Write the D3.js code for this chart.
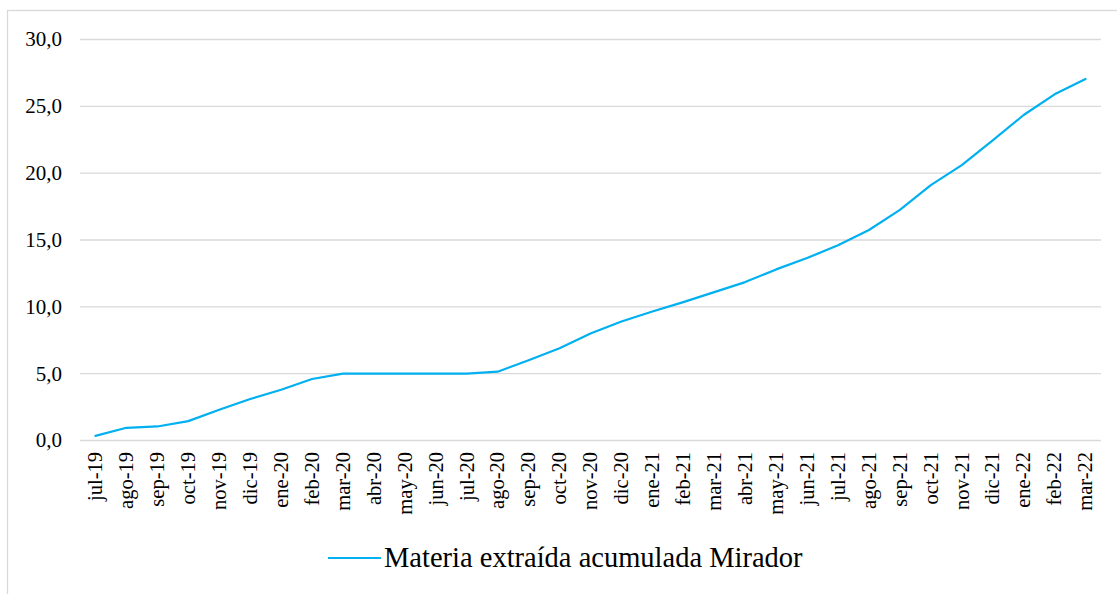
<!DOCTYPE html>
<html>
<head>
<meta charset="utf-8">
<script src="https://cdn.jsdelivr.net/npm/d3@7"></script>
<style>
  body { margin: 0; background: #fff; }
  svg { display: block; }
</style>
</head>
<body>
<svg id="chart" width="1117" height="594"></svg>
<script>
// Dati
const months = ['jul-19','ago-19','sep-19','oct-19','nov-19','dic-19','ene-20','feb-20','mar-20','abr-20','may-20','jun-20','jul-20','ago-20','sep-20','oct-20','nov-20','dic-20','ene-21','feb-21','mar-21','abr-21','may-21','jun-21','jul-21','ago-21','sep-21','oct-21','nov-21','dic-21','ene-22','feb-22','mar-22'];
const values = [0.35, 0.95, 1.05, 1.45, 2.3, 3.1, 3.8, 4.6, 5.0, 5.0, 5.0, 5.0, 5.0, 5.15, 6.0, 6.9, 8.0, 8.9, 9.65, 10.35, 11.1, 11.85, 12.8, 13.65, 14.6, 15.75, 17.25, 19.1, 20.6, 22.45, 24.35, 25.9, 27.05];
const yTicks = [0, 5, 10, 15, 20, 25, 30];
const seriesName = 'Materia extraída acumulada Mirador';

const svg = d3.select('#chart');
const font = '"Liberation Serif", "Times New Roman", serif';

// Bordo esterno
svg.append('rect')
    .attr('x', 7.5).attr('y', 10.5)
    .attr('width', 1120).attr('height', 600)
    .style('fill', 'none')
    .style('stroke', '#d9d9d9')
    .style('stroke-width', 1.3);

const plotLeft = 80, plotRight = 1101, plotTop = 39.5, plotBottom = 440.5;

const x = d3.scaleBand().domain(months).range([plotLeft, plotRight]);
const y = d3.scaleLinear().domain([0, 30]).range([plotBottom, plotTop]);

// Griglia orizzontale
svg.append('g')
    .selectAll('line')
    .data(yTicks)
    .enter()
    .append('line')
    .attr('x1', plotLeft).attr('x2', plotRight)
    .attr('y1', d => y(d)).attr('y2', d => y(d))
    .style('stroke', '#d9d9d9')
    .style('stroke-width', 1.3);

// Etichette asse Y
const fmt = d => d3.format('.1f')(d).replace('.', ',');
svg.append('g')
    .selectAll('text')
    .data(yTicks)
    .enter()
    .append('text')
    .attr('x', 62)
    .attr('y', d => y(d))
    .attr('dy', '0.33em')
    .style('text-anchor', 'end')
    .style('font-family', font)
    .style('font-size', '21px')
    .style('fill', '#000')
    .text(fmt);

// Etichette asse X (ruotate)
svg.append('g')
    .selectAll('text')
    .data(months)
    .enter()
    .append('text')
    .attr('transform', d => `translate(${x(d) + x.bandwidth() / 2}, 452) rotate(-90)`)
    .attr('dy', '0.33em')
    .style('text-anchor', 'end')
    .style('font-family', font)
    .style('font-size', '20.5px')
    .style('fill', '#000')
    .text(d => d);

// Linea
const line = d3.line()
    .x((d, i) => x(months[i]) + x.bandwidth() / 2)
    .y(d => y(d));

svg.append('path')
    .datum(values)
    .attr('d', line)
    .style('fill', 'none')
    .style('stroke', '#00B0F0')
    .style('stroke-width', 2.2)
    .style('stroke-linejoin', 'round')
    .style('stroke-linecap', 'round');

// Legenda
svg.append('line')
    .attr('x1', 328).attr('x2', 381)
    .attr('y1', 558).attr('y2', 558)
    .style('stroke', '#00B0F0')
    .style('stroke-width', 2.2);

svg.append('text')
    .attr('x', 384)
    .attr('y', 567)
    .style('font-family', font)
    .style('font-size', '28.5px')
    .style('fill', '#000')
    .text(seriesName);
</script>
</body>
</html>
